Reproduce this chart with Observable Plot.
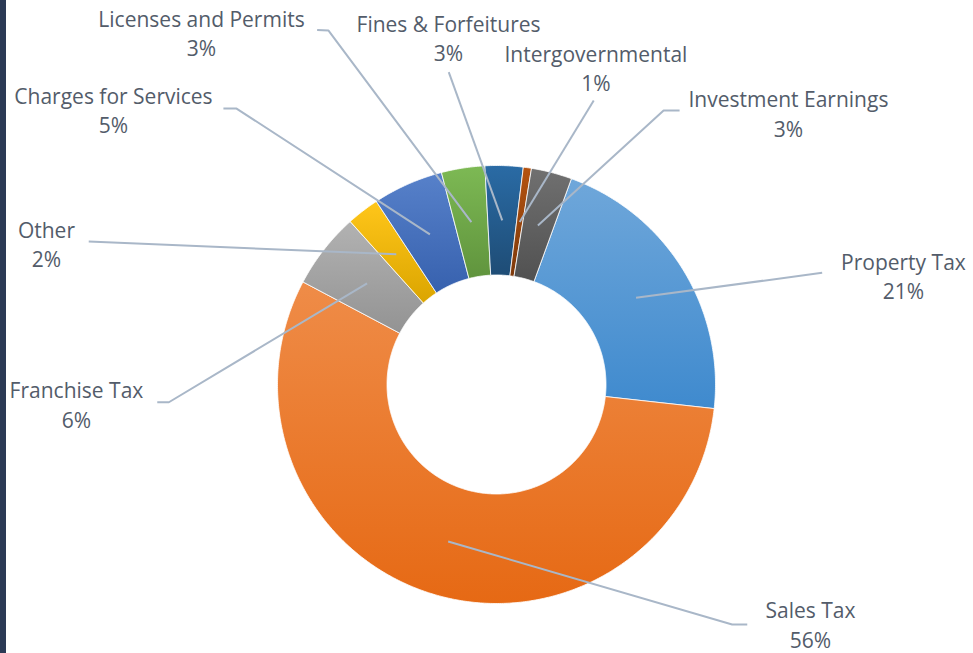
<!DOCTYPE html>
<html>
<head>
<meta charset="utf-8">
<script src="https://cdn.jsdelivr.net/npm/d3@7"></script>
<script src="https://cdn.jsdelivr.net/npm/@observablehq/plot@0.6"></script>
<style>
  html, body { margin: 0; padding: 0; background: #ffffff; }
  body { width: 973px; height: 653px; overflow: hidden; }
  #frame { position: relative; width: 973px; height: 653px; }
  #edge { position: absolute; left: 0; top: 0; width: 6px; height: 653px; background: #2b3a55; }
  #frame svg { position: absolute; left: 0; top: 0; }
</style>
</head>
<body>
<div id="frame"><div id="edge"></div></div>
<script>
// ---- data ----
const categories = ["Property Tax", "Sales Tax", "Franchise Tax", "Other", "Charges for Services",
  "Licenses and Permits", "Fines & Forfeitures", "Intergovernmental", "Investment Earnings"];
const shares = [21.2, 56.0, 5.6, 2.4, 5.2, 3.2, 2.8, 0.6, 3.0];
const colors = ["#5b9bd5", "#ed7d31", "#a5a5a5", "#ffc000", "#4472c4", "#70ad47", "#255e91", "#9e480e", "#636363"];

// ---- layout (annotation placement, in donut units: centre = 0,0, outer radius = 1) ----
const firstSliceAngle = 20;      // degrees, clockwise from 12 o'clock
const innerRatio = 0.5;
const leaderRadius = 0.75;
const labelPos = [[1.858, 0.499], [1.434, -1.092], [-1.918, -0.086], [-2.055, 0.645], [-1.749, 1.257],
  [-1.347, 1.610], [-0.219, 1.587], [0.454, 1.450], [1.333, 1.242]];
const leaderElbow = [[1.487, 0.510], [1.076, -1.096], [-1.496, -0.081], [-1.862, 0.653], [-1.187, 1.260],
  [-0.767, 1.616], [-0.218, 1.426], [0.444, 1.297], [0.763, 1.251]];
const leaderEnd = [[1.487, 0.510], [1.145, -1.096], [-1.549, -0.081], [-1.862, 0.653], [-1.247, 1.260],
  [-0.819, 1.619], [-0.218, 1.426], [0.444, 1.297], [0.836, 1.251]];

// ---- derived geometry ----
const total = d3.sum(shares);
const rad = (deg) => deg * Math.PI / 180;
const pt = (r, deg) => [r * Math.sin(rad(deg)), r * Math.cos(rad(deg))];

const slicePoints = [];
const leaderPoints = [];
const labels = [];
let acc = firstSliceAngle;
categories.forEach((cat, i) => {
  const a0 = acc;
  const a1 = acc + shares[i] / total * 360;
  acc = a1;
  const n = Math.max(2, Math.ceil((a1 - a0) / 0.5));
  const ring = [];
  for (let k = 0; k <= n; k++) ring.push(pt(1, a0 + (a1 - a0) * k / n));
  for (let k = n; k >= 0; k--) ring.push(pt(innerRatio, a0 + (a1 - a0) * k / n));
  ring.push(ring[0]);
  ring.forEach(([x, y]) => slicePoints.push({cat, x, y}));

  const mid = (a0 + a1) / 2;
  const s = pt(leaderRadius, mid);
  [s, leaderElbow[i], leaderEnd[i]].forEach(([x, y]) => leaderPoints.push({cat, x, y}));

  labels.push({cat, x: labelPos[i][0], y: labelPos[i][1], text: `${cat}\n${Math.round(shares[i])}%`});
});

const svg = Plot.plot({
  width: 973,
  height: 653,
  margin: 0,
  x: {domain: [-496 / 219, 477 / 219], axis: null},
  y: {domain: [-269 / 219, 384 / 219], axis: null},
  color: {type: "ordinal", domain: categories, range: categories.map((d, i) => `url(#grad${i})`)},
  style: {background: "transparent", fontFamily: "'Open Sans', sans-serif"},
  marks: [
    Plot.line(slicePoints, {x: "x", y: "y", z: "cat", fill: "cat", stroke: "#ffffff", strokeWidth: 0.8, curve: "linear"}),
    Plot.line(leaderPoints, {x: "x", y: "y", z: "cat", stroke: "#a9b7c8", strokeWidth: 2, strokeLinecap: "butt", curve: "linear"}),
    Plot.text(labels, {x: "x", y: "y", text: "text", fill: "#535c6a", fontSize: 21,
      fontFamily: "'Open Sans', sans-serif", lineHeight: 1.405, lineAnchor: "middle", textAnchor: "middle"})
  ]
});

const defs = d3.select(svg).insert("defs", ":first-child");
colors.forEach((c, i) => {
  const g = defs.append("linearGradient").attr("id", `grad${i}`)
    .attr("x1", 0).attr("y1", 0).attr("x2", 0).attr("y2", 1);
  const top = d3.hsl(c); top.l = Math.min(1, top.l + 0.05);
  const bottom = d3.hsl(c); bottom.l = Math.max(0, bottom.l - 0.07);
  g.append("stop").attr("offset", "0%").attr("stop-color", top.formatHex());
  g.append("stop").attr("offset", "100%").attr("stop-color", bottom.formatHex());
});

document.getElementById("frame").appendChild(svg);
</script>
</body>
</html>
